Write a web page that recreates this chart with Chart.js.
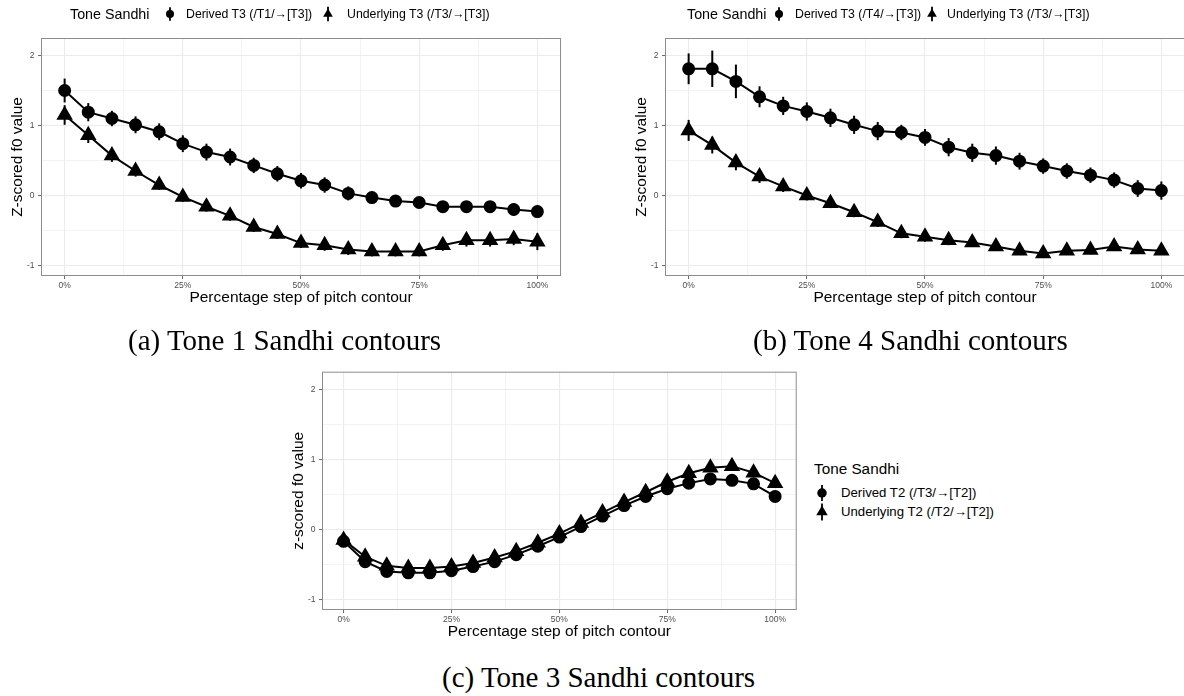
<!DOCTYPE html>
<html>
<head>
<meta charset="utf-8">
<title>Tone sandhi contours</title>
<script src="https://cdn.jsdelivr.net/npm/chart.js@4.4.1/dist/chart.umd.min.js"></script>
<style>
  html, body { margin: 0; padding: 0; background: #fff; overflow: hidden; }
  body { width: 1184px; height: 696px; position: relative; font-family: "Liberation Sans", Arial, sans-serif; }
  canvas { position: absolute; }
  .cap { position: absolute; font-family: "Liberation Serif", "Times New Roman", serif; font-size: 29px; line-height: 29px; white-space: nowrap; color: #000; }
  .leg { position: absolute; white-space: nowrap; color: #000; }
  svg { position: absolute; overflow: visible; }
</style>
</head>
<body>
<canvas id="chartA" width="580" height="312" style="left:0px;top:0px;"></canvas>
<canvas id="chartB" width="580" height="312" style="left:624px;top:0px;"></canvas>
<canvas id="chartC" width="530" height="296" style="left:281px;top:350px;"></canvas>

<div class="cap" style="left:128px;top:326px;">(a) Tone 1 Sandhi contours</div>
<div class="cap" style="left:753px;top:326px;">(b) Tone 4 Sandhi contours</div>
<div class="cap" style="left:442px;top:663px;">(c) Tone 3 Sandhi contours</div>

<script>
// percentage steps along the pitch contour
const steps = [0, 5, 10, 15, 20, 25, 30, 35, 40, 45, 50, 55, 60, 65, 70, 75, 80, 85, 90, 95, 100];

// axis ticks
const xMajorTicks = [0, 25, 50, 75, 100];
const xTickLabels = ['0%', '25%', '50%', '75%', '100%'];
const xMinorTicks = [12.5, 37.5, 62.5, 87.5];
const yMajorTicks = [-1, 0, 1, 2];
const yTickLabels = ['-1', '0', '1', '2'];
const yMinorTicks = [-0.5, 0.5, 1.5];

// (a) Tone 1 sandhi
const t1Derived = [1.50, 1.19, 1.10, 1.01, 0.91, 0.74, 0.62, 0.55, 0.43, 0.31, 0.21, 0.15, 0.03, -0.03, -0.08, -0.10, -0.16, -0.16, -0.16, -0.20, -0.23];
const t1DerivedErr = [0.17, 0.13, 0.11, 0.12, 0.12, 0.12, 0.12, 0.12, 0.11, 0.11, 0.11, 0.11, 0.10, 0.09, 0.08, 0.08, 0.08, 0.08, 0.08, 0.09, 0.09];
const t1Underlying = [1.15, 0.86, 0.57, 0.35, 0.15, -0.02, -0.16, -0.29, -0.45, -0.55, -0.68, -0.71, -0.77, -0.80, -0.80, -0.80, -0.71, -0.64, -0.64, -0.62, -0.66];
const t1UnderlyingErr = [0.14, 0.11, 0.09, 0.08, 0.07, 0.07, 0.07, 0.07, 0.07, 0.07, 0.07, 0.08, 0.08, 0.07, 0.07, 0.07, 0.08, 0.09, 0.09, 0.09, 0.12];

// (b) Tone 4 sandhi
const t4Derived = [1.81, 1.81, 1.63, 1.41, 1.28, 1.20, 1.11, 1.01, 0.92, 0.90, 0.83, 0.69, 0.61, 0.57, 0.49, 0.42, 0.35, 0.29, 0.22, 0.10, 0.07];
const t4DerivedErr = [0.22, 0.26, 0.24, 0.15, 0.13, 0.13, 0.13, 0.13, 0.13, 0.11, 0.12, 0.13, 0.13, 0.13, 0.12, 0.11, 0.11, 0.11, 0.11, 0.12, 0.13];
const t4Underlying = [0.93, 0.72, 0.47, 0.27, 0.13, 0.00, -0.11, -0.24, -0.38, -0.54, -0.59, -0.64, -0.67, -0.73, -0.79, -0.83, -0.79, -0.78, -0.73, -0.77, -0.79];
const t4UnderlyingErr = [0.15, 0.12, 0.11, 0.09, 0.08, 0.07, 0.07, 0.07, 0.07, 0.07, 0.07, 0.07, 0.06, 0.06, 0.06, 0.06, 0.06, 0.06, 0.06, 0.06, 0.06];

// (c) Tone 3 sandhi
const t3Derived = [-0.17, -0.46, -0.60, -0.62, -0.62, -0.59, -0.53, -0.46, -0.36, -0.24, -0.11, 0.04, 0.19, 0.34, 0.47, 0.58, 0.66, 0.72, 0.70, 0.65, 0.47];
const t3DerivedErr = [0.06, 0.05, 0.04, 0.04, 0.04, 0.04, 0.04, 0.04, 0.04, 0.04, 0.04, 0.04, 0.04, 0.04, 0.04, 0.04, 0.04, 0.04, 0.04, 0.04, 0.05];
const t3Underlying = [-0.15, -0.39, -0.52, -0.55, -0.55, -0.53, -0.48, -0.40, -0.31, -0.19, -0.06, 0.09, 0.24, 0.39, 0.53, 0.68, 0.80, 0.88, 0.90, 0.81, 0.66];
const t3UnderlyingErr = [0.06, 0.05, 0.04, 0.04, 0.04, 0.04, 0.04, 0.04, 0.04, 0.04, 0.04, 0.04, 0.04, 0.04, 0.04, 0.04, 0.04, 0.04, 0.04, 0.04, 0.05];

const toPoints = vals => vals.map((v, i) => ({ x: steps[i], y: v }));

// vertical error bars, drawn through the chart scales
const errorBars = {
  id: 'errorBars',
  afterDatasetsDraw(chart) {
    const { ctx, scales: { x, y } } = chart;
    ctx.save();
    ctx.strokeStyle = '#000';
    ctx.lineWidth = 2;
    chart.data.datasets.forEach(ds => {
      if (!ds.errors) return;
      ds.data.forEach((p, i) => {
        const px = x.getPixelForValue(p.x);
        ctx.beginPath();
        ctx.moveTo(px, y.getPixelForValue(p.y - ds.errors[i]));
        ctx.lineTo(px, y.getPixelForValue(p.y + ds.errors[i]));
        ctx.stroke();
      });
    });
    ctx.restore();
  }
};

// ggplot-like panel border
const frame = {
  id: 'frame',
  afterDatasetsDraw(chart) {
    const { ctx, chartArea: a } = chart;
    ctx.save();
    ctx.strokeStyle = '#8c8c8c';
    ctx.lineWidth = 1;
    ctx.strokeRect(a.left + 0.5, a.top + 0.5, a.right - a.left - 1, a.bottom - a.top - 1);
    ctx.restore();
  }
};

const isMajorX = v => xMajorTicks.includes(v);
const isMajorY = v => yMajorTicks.includes(v);

function makeChart(id, derived, derivedErr, underlying, underlyingErr, yTitle, pad) {
  const ctx = document.getElementById(id).getContext('2d');
  return new Chart(ctx, {
    type: 'line',
    data: {
      datasets: [
        {
          label: 'Derived',
          data: toPoints(derived),
          errors: derivedErr,
          borderColor: '#000',
          borderWidth: 2,
          pointStyle: 'circle',
          pointRadius: 5.5,
          pointBackgroundColor: '#000',
          pointBorderColor: '#000',
          tension: 0
        },
        {
          label: 'Underlying',
          data: toPoints(underlying),
          errors: underlyingErr,
          borderColor: '#000',
          borderWidth: 2,
          pointStyle: 'triangle',
          pointRadius: 7.5,
          pointBackgroundColor: '#000',
          pointBorderColor: '#000',
          tension: 0
        }
      ]
    },
    options: {
      responsive: false,
      animation: false,
      layout: { padding: { left: 0, top: pad.top, right: pad.right, bottom: 0 } },
      plugins: { legend: { display: false }, tooltip: { enabled: false } },
      scales: {
        x: {
          type: 'linear',
          min: -5,
          max: 105,
          afterBuildTicks: s => { s.ticks = xMajorTicks.concat(xMinorTicks).sort((a, b) => a - b).map(v => ({ value: v })); },
          afterFit: s => { s.height = pad.xAxis; },
          ticks: {
            autoSkip: false,
            maxRotation: 0,
            padding: 2,
            color: '#4d4d4d',
            font: { family: '"Liberation Sans", Arial', size: 8.5 },
            callback: v => isMajorX(v) ? xTickLabels[xMajorTicks.indexOf(v)] : ''
          },
          grid: {
            color: '#ebebeb',
            lineWidth: c => (c.tick && isMajorX(c.tick.value)) ? 1.1 : 0.6,
            tickLength: 3,
            tickColor: c => (c.tick && isMajorX(c.tick.value)) ? '#666' : 'rgba(0,0,0,0)',
            tickWidth: 1
          },
          border: { display: false },
          title: {
            display: true,
            text: 'Percentage step of pitch contour',
            color: '#000',
            font: { family: '"Liberation Sans", Arial', size: 15.5 },
            padding: { top: 0, bottom: 4.7 }
          }
        },
        y: {
          type: 'linear',
          min: -1.15,
          max: 2.25,
          afterBuildTicks: s => { s.ticks = yMajorTicks.concat(yMinorTicks).sort((a, b) => a - b).map(v => ({ value: v })); },
          afterFit: s => { s.width = 41; },
          ticks: {
            autoSkip: false,
            padding: 3.5,
            color: '#4d4d4d',
            font: { family: '"Liberation Sans", Arial', size: 8.5 },
            callback: v => isMajorY(v) ? yTickLabels[yMajorTicks.indexOf(v)] : ''
          },
          grid: {
            color: '#ebebeb',
            lineWidth: c => (c.tick && isMajorY(c.tick.value)) ? 1.1 : 0.6,
            tickLength: 3,
            tickColor: c => (c.tick && isMajorY(c.tick.value)) ? '#666' : 'rgba(0,0,0,0)',
            tickWidth: 1
          },
          border: { display: false },
          title: {
            display: true,
            text: yTitle,
            color: '#000',
            font: { family: '"Liberation Sans", Arial', size: 15.5 },
            padding: { top: 8, bottom: 0 }
          }
        }
      }
    },
    plugins: [errorBars, frame]
  });
}

makeChart('chartA', t1Derived, t1DerivedErr, t1Underlying, t1UnderlyingErr, 'Z-scored f0 value', { top: 38, right: 19, xAxis: 36 });
makeChart('chartB', t4Derived, t4DerivedErr, t4Underlying, t4UnderlyingErr, 'Z-scored f0 value', { top: 38, right: 19, xAxis: 36 });
makeChart('chartC', t3Derived, t3DerivedErr, t3Underlying, t3UnderlyingErr, 'z-scored f0 value', { top: 21.7, right: 14.3, xAxis: 36 });

// legends (ggplot style keys: point with a vertical error bar)
const SVGNS = 'http://www.w3.org/2000/svg';
function key(shape, cx, cy, size) {
  const svg = document.createElementNS(SVGNS, 'svg');
  svg.setAttribute('width', 1);
  svg.setAttribute('height', 1);
  svg.style.left = cx + 'px';
  svg.style.top = cy + 'px';
  const line = document.createElementNS(SVGNS, 'line');
  line.setAttribute('x1', 0); line.setAttribute('x2', 0);
  line.setAttribute('y1', -size * 0.85); line.setAttribute('y2', size * 0.85);
  line.setAttribute('stroke', '#000'); line.setAttribute('stroke-width', 1.8);
  svg.appendChild(line);
  let mark;
  if (shape === 'circle') {
    mark = document.createElementNS(SVGNS, 'circle');
    mark.setAttribute('cx', 0); mark.setAttribute('cy', 0); mark.setAttribute('r', size * 0.5);
  } else {
    const r = size * 0.66;
    mark = document.createElementNS(SVGNS, 'polygon');
    mark.setAttribute('points', `0,${-r} ${r * 0.866},${r * 0.5} ${-r * 0.866},${r * 0.5}`);
  }
  mark.setAttribute('fill', '#000');
  svg.appendChild(mark);
  document.body.appendChild(svg);
}
function label(text, left, cy, size) {
  const d = document.createElement('div');
  d.className = 'leg';
  d.textContent = text;
  d.style.fontSize = size + 'px';
  d.style.lineHeight = '20px';
  d.style.left = left + 'px';
  d.style.top = (cy - 10) + 'px';
  document.body.appendChild(d);
}

label('Tone Sandhi', 70, 13.5, 14.3);
key('circle', 170, 13.5, 8);
label('Derived T3 (/T1/\u2192[T3])', 186, 13.5, 12.3);
key('triangle', 328, 13.5, 8.5);
label('Underlying T3 (/T3/\u2192[T3])', 347, 13.5, 12.3);

label('Tone Sandhi', 687, 13.5, 14.3);
key('circle', 779, 13.5, 8);
label('Derived T3 (/T4/\u2192[T3])', 795, 13.5, 12.3);
key('triangle', 932, 13.5, 8.5);
label('Underlying T3 (/T3/\u2192[T3])', 947, 13.5, 12.3);

label('Tone Sandhi', 814, 469, 15.3);
key('circle', 822, 493, 9.5);
label('Derived T2 (/T3/\u2192[T2])', 841, 493, 13.2);
key('triangle', 822, 512, 10);
label('Underlying T2 (/T2/\u2192[T2])', 841, 512, 13.2);
</script>
</body>
</html>
